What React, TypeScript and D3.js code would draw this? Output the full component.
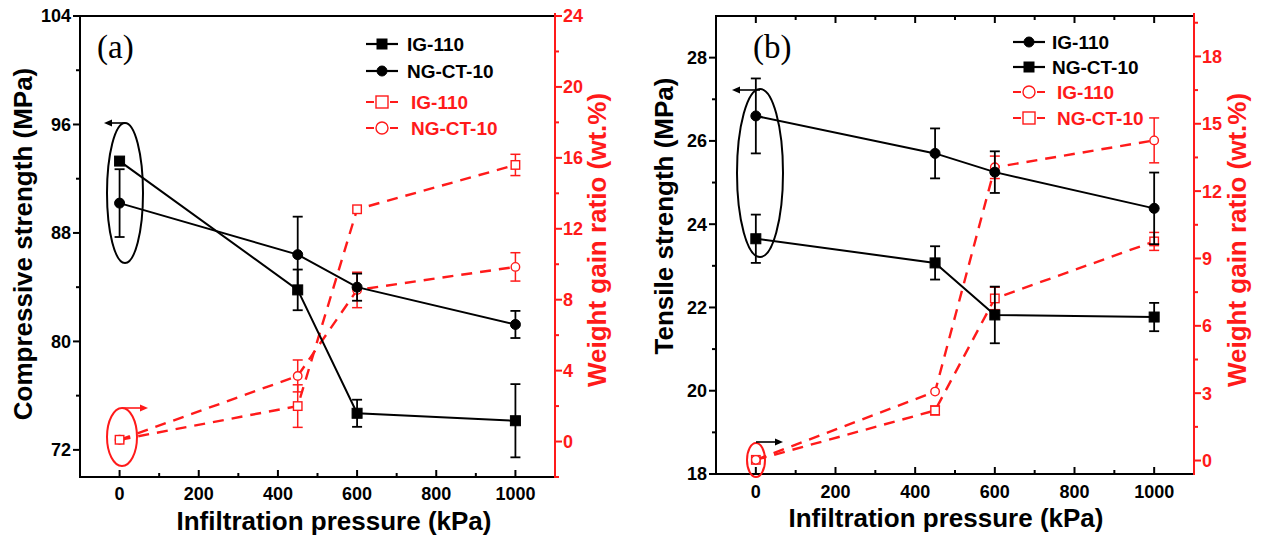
import React from "react";
import * as d3 from "d3";

// Infiltration pressures (kPa)
const pressures = [0, 450, 600, 1000];

// (a) Compressive strength (MPa)
const compIG110 = [93.3, 83.8, 74.7, 74.15];
const compIG110Err = [0, 1.5, 1.0, 2.7];
const compNGCT10 = [90.2, 86.4, 84.0, 81.25];
const compNGCT10Err = [2.5, 2.8, 1.0, 1.0];
// (a) Weight gain ratio (wt.%)
const gainAIG110 = [0.1, 2.0, 13.1, 15.6];
const gainAIG110Err = [0, 1.2, 0, 0.6];
const gainANGCT10 = [0.1, 3.7, 8.55, 9.85];
const gainANGCT10Err = [0, 0.9, 1.0, 0.8];

// (b) Tensile strength (MPa)
const tensIG110 = [26.6, 25.7, 25.25, 24.38];
const tensIG110Err = [0.9, 0.6, 0.5, 0.86];
const tensNGCT10 = [23.65, 23.07, 21.82, 21.77];
const tensNGCT10Err = [0.58, 0.4, 0.68, 0.34];
// (b) Weight gain ratio (wt.%)
const gainBIG110 = [0.03, 3.07, 13.06, 14.26];
const gainBIG110Err = [0, 0, 0.5, 1.0];
const gainBNGCT10 = [0.03, 2.23, 7.22, 9.76];
const gainBNGCT10Err = [0, 0.2, 0.5, 0.4];

// Tick values
const xMajor = [0, 200, 400, 600, 800, 1000];
const xMinor = [100, 300, 500, 700, 900];
const aLeftMajor = [72, 80, 88, 96, 104];
const aLeftMinor = [76, 84, 92, 100];
const aRightMajor = [0, 4, 8, 12, 16, 20, 24];
const aRightMinor = [-2, 2, 6, 10, 14, 18, 22];
const bLeftMajor = [18, 20, 22, 24, 26, 28];
const bLeftMinor = [19, 21, 23, 25, 27];
const bRightMajor = [0, 3, 6, 9, 12, 15, 18];
const bRightMinor = [1.5, 4.5, 7.5, 10.5, 13.5, 16.5, 19.5];

const RED = "#ff1a1a";
const SANS = "'Liberation Sans', Arial, sans-serif";
const SERIF = "'Liberation Serif', 'Times New Roman', serif";

type Series = {
  values: number[];
  err: number[];
  color: string;
  marker: "sq" | "ci";
  filled: boolean;
  axis: "L" | "R";
};

type LegendRow = { label: string; color: string; marker: "sq" | "ci"; filled: boolean };

type PanelProps = {
  left: number;
  right: number;
  top: number;
  bottom: number;
  yL: [number, number];
  yR: [number, number];
  leftMajor: number[];
  leftMinor: number[];
  rightMajor: number[];
  rightMinor: number[];
  topTicks: boolean;
  series: Series[];
  legend: LegendRow[];
  legendX: number;
  legendYs: number[];
  legendTextDx: number[];
  tag: string;
  tagX: number;
  leftTitle: string;
  leftTitlePos: [number, number];
  rightTitlePos: [number, number];
  xTitlePos: [number, number];
  xTickBaseline: number;
  blackEllipse: { cx: number; cy: number; rx: number; ry: number };
  redEllipse: { cx: number; cy: number; rx: number; ry: number };
  leftArrow: { x: number; y: number; len: number };
  rightArrow: { x: number; y: number; len: number; color: string };
};

function Marker({ x, y, kind, filled, color, size }: { x: number; y: number; kind: "sq" | "ci"; filled: boolean; color: string; size: number }) {
  if (kind === "sq") {
    return (
      <rect
        x={x - size / 2}
        y={y - size / 2}
        width={size}
        height={size}
        fill={filled ? color : "white"}
        stroke={color}
        strokeWidth={filled ? 1 : 1.4}
      />
    );
  }
  return <circle cx={x} cy={y} r={size / 2} fill={filled ? color : "white"} stroke={color} strokeWidth={filled ? 1 : 1.4} />;
}

function Arrow({ x, y, len, color }: { x: number; y: number; len: number; color: string }) {
  // len > 0 points right, len < 0 points left
  const tip = x + len;
  const dir = Math.sign(len);
  return (
    <g>
      <line x1={x} y1={y} x2={tip - dir * 5} y2={y} stroke={color} strokeWidth={1.6} />
      <path d={`M${tip},${y} L${tip - dir * 8},${y - 3.5} L${tip - dir * 8},${y + 3.5} Z`} fill={color} />
    </g>
  );
}

function Panel(p: PanelProps) {
  const x = d3.scaleLinear().domain([-100, 1100]).range([p.left, p.right]);
  const yL = d3.scaleLinear().domain(p.yL).range([p.bottom, p.top]);
  const yR = d3.scaleLinear().domain(p.yR).range([p.bottom, p.top]);
  const line = (ys: d3.ScaleLinear<number, number>) =>
    d3
      .line<number>()
      .x((_, i) => x(pressures[i]))
      .y((v) => ys(v));

  return (
    <g fontFamily={SANS} fontWeight="bold">
      {/* frame */}
      <line x1={p.left} y1={p.top} x2={p.right} y2={p.top} stroke="black" strokeWidth={2} />
      <line x1={p.left} y1={p.bottom} x2={p.right} y2={p.bottom} stroke="black" strokeWidth={2} />
      <line x1={p.left} y1={p.top - 1} x2={p.left} y2={p.bottom + 1} stroke="black" strokeWidth={2} />
      <line x1={p.right} y1={p.top - 3} x2={p.right} y2={p.bottom + 1} stroke={RED} strokeWidth={2} />

      {/* bottom axis */}
      {xMajor.map((t) => (
        <g key={"xb" + t}>
          <line x1={x(t)} x2={x(t)} y1={p.bottom} y2={p.bottom - 7} stroke="black" strokeWidth={2} />
          <text x={x(t)} y={p.xTickBaseline} textAnchor="middle" fontSize={18}>
            {t}
          </text>
          {p.topTicks && <line x1={x(t)} x2={x(t)} y1={p.top} y2={p.top + 7} stroke="black" strokeWidth={2} />}
        </g>
      ))}
      {xMinor.map((t) => (
        <g key={"xm" + t}>
          <line x1={x(t)} x2={x(t)} y1={p.bottom} y2={p.bottom - 4} stroke="black" strokeWidth={2} />
          {p.topTicks && <line x1={x(t)} x2={x(t)} y1={p.top} y2={p.top + 4} stroke="black" strokeWidth={2} />}
        </g>
      ))}

      {/* left axis */}
      {p.leftMajor.map((t) => (
        <g key={"yl" + t}>
          <line x1={p.left} x2={p.left - 7} y1={yL(t)} y2={yL(t)} stroke="black" strokeWidth={2} />
          <text x={p.left - 9} y={yL(t)} dy="0.36em" textAnchor="end" fontSize={18}>
            {t}
          </text>
        </g>
      ))}
      {p.leftMinor.map((t) => (
        <line key={"ylm" + t} x1={p.left} x2={p.left - 4} y1={yL(t)} y2={yL(t)} stroke="black" strokeWidth={2} />
      ))}

      {/* right axis */}
      {p.rightMajor.map((t) => (
        <g key={"yr" + t}>
          <line x1={p.right} x2={p.right + 7} y1={yR(t)} y2={yR(t)} stroke={RED} strokeWidth={2} />
          <text x={p.right + 8} y={yR(t)} dy="0.36em" textAnchor="start" fontSize={18} fill={RED}>
            {t}
          </text>
        </g>
      ))}
      {p.rightMinor.map((t) => (
        <line key={"yrm" + t} x1={p.right} x2={p.right + 4} y1={yR(t)} y2={yR(t)} stroke={RED} strokeWidth={2} />
      ))}

      {/* series */}
      {p.series.map((s, si) => {
        const ys = s.axis === "L" ? yL : yR;
        const dashed = s.axis === "R";
        return (
          <g key={"s" + si}>
            <path
              d={line(ys)(s.values) || ""}
              fill="none"
              stroke={s.color}
              strokeWidth={dashed ? 2.4 : 2}
              strokeDasharray={dashed ? "11,8" : undefined}
            />
            {s.values.map((v, i) =>
              s.err[i] > 0 ? (
                <g key={"e" + i} stroke={s.color} strokeWidth={dashed ? 1.5 : 1.8}>
                  <line x1={x(pressures[i])} x2={x(pressures[i])} y1={ys(v - s.err[i])} y2={ys(v + s.err[i])} />
                  <line x1={x(pressures[i]) - 5} x2={x(pressures[i]) + 5} y1={ys(v - s.err[i])} y2={ys(v - s.err[i])} />
                  <line x1={x(pressures[i]) - 5} x2={x(pressures[i]) + 5} y1={ys(v + s.err[i])} y2={ys(v + s.err[i])} />
                </g>
              ) : null
            )}
            {s.values.map((v, i) => (
              <Marker
                key={"m" + i}
                x={x(pressures[i])}
                y={ys(v)}
                kind={s.marker}
                filled={s.filled}
                color={s.color}
                size={s.filled ? (s.marker === "sq" ? 10 : 10) : s.marker === "sq" ? 8.5 : 8.5}
              />
            ))}
          </g>
        );
      })}

      {/* grouping ellipses and arrows */}
      <ellipse cx={p.blackEllipse.cx} cy={p.blackEllipse.cy} rx={p.blackEllipse.rx} ry={p.blackEllipse.ry} fill="none" stroke="black" strokeWidth={2} />
      <ellipse cx={p.redEllipse.cx} cy={p.redEllipse.cy} rx={p.redEllipse.rx} ry={p.redEllipse.ry} fill="none" stroke={RED} strokeWidth={2} />
      <Arrow x={p.leftArrow.x} y={p.leftArrow.y} len={p.leftArrow.len} color="black" />
      <Arrow x={p.rightArrow.x} y={p.rightArrow.y} len={p.rightArrow.len} color={p.rightArrow.color} />

      {/* legend */}
      {p.legend.map((row, i) => {
        const y = p.legendYs[i];
        const dashed = !row.filled;
        return (
          <g key={"lg" + i}>
            <line
              x1={p.legendX}
              x2={p.legendX + 32}
              y1={y}
              y2={y}
              stroke={row.color}
              strokeWidth={2.2}
              strokeDasharray={dashed ? "8,4" : undefined}
            />
            <Marker x={p.legendX + 16} y={y} kind={row.marker} filled={row.filled} color={row.color} size={row.filled ? 10 : 12} />
            <text x={p.legendX + 32 + p.legendTextDx[i]} y={y} dy="0.36em" fontSize={19} fill={row.color}>
              {row.label}
            </text>
          </g>
        );
      })}

      {/* panel tag */}
      <text x={p.tagX} y={58} fontFamily={SERIF} fontWeight="normal" fontSize={33}>
        {p.tag}
      </text>

      {/* titles */}
      <text transform={`translate(${p.leftTitlePos[0]},${p.leftTitlePos[1]}) rotate(-90)`} textAnchor="middle" fontSize={26}>
        {p.leftTitle}
      </text>
      <text transform={`translate(${p.rightTitlePos[0]},${p.rightTitlePos[1]}) rotate(-90)`} textAnchor="middle" fontSize={26} fill={RED}>
        Weight gain ratio (wt.%)
      </text>
      <text x={p.xTitlePos[0]} y={p.xTitlePos[1]} textAnchor="middle" fontSize={26}>
        Infiltration pressure (kPa)
      </text>
    </g>
  );
}

export default function App() {
  return (
    <svg width={1261} height={537} style={{ position: "absolute", left: 0, top: 0, background: "white" }}>
      <rect width={1261} height={537} fill="white" />
      <Panel
        left={80}
        right={555}
        top={16}
        bottom={477}
        yL={[70, 104]}
        yR={[-2, 24]}
        leftMajor={aLeftMajor}
        leftMinor={aLeftMinor}
        rightMajor={aRightMajor}
        rightMinor={aRightMinor}
        topTicks={false}
        series={[
          { values: gainANGCT10, err: gainANGCT10Err, color: RED, marker: "ci", filled: false, axis: "R" },
          { values: gainAIG110, err: gainAIG110Err, color: RED, marker: "sq", filled: false, axis: "R" },
          { values: compNGCT10, err: compNGCT10Err, color: "black", marker: "ci", filled: true, axis: "L" },
          { values: compIG110, err: compIG110Err, color: "black", marker: "sq", filled: true, axis: "L" },
        ]}
        legend={[
          { label: "IG-110", color: "black", marker: "sq", filled: true },
          { label: "NG-CT-10", color: "black", marker: "ci", filled: true },
          { label: "IG-110", color: RED, marker: "sq", filled: false },
          { label: "NG-CT-10", color: RED, marker: "ci", filled: false },
        ]}
        legendX={366}
        legendYs={[44, 71, 102, 128]}
        legendTextDx={[9, 9, 13, 13]}
        tag="(a)"
        tagX={97}
        leftTitle="Compressive strength (MPa)"
        leftTitlePos={[32, 244]}
        rightTitlePos={[606, 240]}
        xTitlePos={[334, 530]}
        xTickBaseline={500}
        blackEllipse={{ cx: 125, cy: 193, rx: 18, ry: 70 }}
        redEllipse={{ cx: 122, cy: 437, rx: 15, ry: 29 }}
        leftArrow={{ x: 125, y: 123, len: -21 }}
        rightArrow={{ x: 122, y: 408, len: 26, color: RED }}
      />
      <Panel
        left={716}
        right={1194}
        top={16}
        bottom={474}
        yL={[18, 29]}
        yR={[-0.6, 19.8]}
        leftMajor={bLeftMajor}
        leftMinor={bLeftMinor}
        rightMajor={bRightMajor}
        rightMinor={bRightMinor}
        topTicks={true}
        series={[
          { values: gainBNGCT10, err: gainBNGCT10Err, color: RED, marker: "sq", filled: false, axis: "R" },
          { values: gainBIG110, err: gainBIG110Err, color: RED, marker: "ci", filled: false, axis: "R" },
          { values: tensNGCT10, err: tensNGCT10Err, color: "black", marker: "sq", filled: true, axis: "L" },
          { values: tensIG110, err: tensIG110Err, color: "black", marker: "ci", filled: true, axis: "L" },
        ]}
        legend={[
          { label: "IG-110", color: "black", marker: "ci", filled: true },
          { label: "NG-CT-10", color: "black", marker: "sq", filled: true },
          { label: "IG-110", color: RED, marker: "ci", filled: false },
          { label: "NG-CT-10", color: RED, marker: "sq", filled: false },
        ]}
        legendX={1013}
        legendYs={[42, 67, 92, 118]}
        legendTextDx={[7, 7, 12, 12]}
        tag="(b)"
        tagX={753}
        leftTitle="Tensile strength (MPa)"
        leftTitlePos={[673, 216]}
        rightTitlePos={[1246, 240]}
        xTitlePos={[946, 527]}
        xTickBaseline={498}
        blackEllipse={{ cx: 760, cy: 173, rx: 23, ry: 84 }}
        redEllipse={{ cx: 756, cy: 460, rx: 9, ry: 17 }}
        leftArrow={{ x: 760, y: 90, len: -28 }}
        rightArrow={{ x: 756, y: 442, len: 27, color: "black" }}
      />
    </svg>
  );
}
